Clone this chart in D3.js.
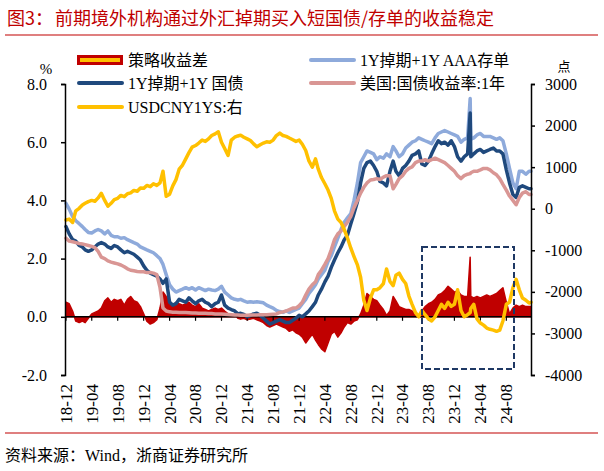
<!DOCTYPE html>
<html><head><meta charset="utf-8">
<script src="https://cdn.jsdelivr.net/npm/d3@7"></script>
<style>
html,body{margin:0;padding:0;background:#fff;}
svg{display:block;}
text{font-family:"Liberation Serif","Times New Roman","Noto Sans CJK SC",serif;}
</style></head><body>
<svg id="c" width="604" height="471"></svg>
<script>
// ---------- DATA ----------
const dates = [
"2018-12-01","2018-12-16","2019-01-01","2019-01-16","2019-02-01","2019-02-16","2019-03-01","2019-03-16","2019-04-01","2019-04-16",
"2019-05-01","2019-05-16","2019-06-01","2019-06-16","2019-07-01","2019-07-16","2019-08-01","2019-08-16","2019-09-01","2019-09-16",
"2019-10-01","2019-10-16","2019-11-01","2019-11-16","2019-12-01","2019-12-16","2020-01-01","2020-01-16","2020-02-01","2020-02-16",
"2020-03-01","2020-03-16","2020-04-01","2020-04-16","2020-05-01","2020-05-16","2020-06-01","2020-06-16","2020-07-01","2020-07-16",
"2020-08-01","2020-08-16","2020-09-01","2020-09-16","2020-10-01","2020-10-16","2020-11-01","2020-11-16","2020-12-01","2020-12-16",
"2021-01-01","2021-01-16","2021-02-01","2021-02-16","2021-03-01","2021-03-16","2021-04-01","2021-04-16","2021-05-01","2021-05-16",
"2021-06-01","2021-06-16","2021-07-01","2021-07-16","2021-08-01","2021-08-16","2021-09-01","2021-09-16","2021-10-01","2021-10-16",
"2021-11-01","2021-11-16","2021-12-01","2021-12-16","2022-01-01","2022-01-16","2022-02-01","2022-02-16","2022-03-01","2022-03-16",
"2022-04-01","2022-04-16","2022-05-01","2022-05-16","2022-06-01","2022-06-16","2022-07-01","2022-07-16","2022-08-01","2022-08-16",
"2022-09-01","2022-09-16","2022-10-01","2022-10-16","2022-11-01","2022-11-16","2022-12-01","2022-12-16","2023-01-01","2023-01-16",
"2023-02-01","2023-02-16","2023-03-01","2023-03-16","2023-04-01","2023-04-16","2023-05-01","2023-05-16","2023-06-01","2023-06-16",
"2023-07-01","2023-07-16","2023-08-01","2023-08-16","2023-09-01","2023-09-16","2023-10-01","2023-10-16","2023-11-01","2023-11-16",
"2023-12-01","2023-12-16","2024-01-01","2024-01-16","2024-02-01","2024-02-13","2024-02-16","2024-03-01","2024-03-16","2024-04-01",
"2024-04-16","2024-05-01","2024-05-16","2024-06-01","2024-06-16","2024-07-01","2024-07-16","2024-08-01","2024-08-16","2024-09-01",
"2024-09-16","2024-10-01","2024-10-16","2024-11-01","2024-11-16","2024-11-25"];

// 策略收益差 (%)
const spread = [
0.5,0.45,0.2,-0.15,-0.2,-0.15,-0.2,-0.05,0.1,0.15, 0.2,0.3,0.55,0.65,0.5,0.6,0.55,0.6,0.4,0.6,
0.7,0.55,0.5,0.35,0.1,-0.15,-0.25,-0.2,-0.1,0.3, 0.85,0.7,0.55,0.4,0.5,0.45,0.4,0.45,0.5,0.4,
0.35,0.45,0.3,0.25,0.2,0.25,0.3,0.25,0.3,0.2, 0.1,0.05,0.08,-0.05,-0.08,-0.05,-0.1,-0.08,-0.05,-0.1,
-0.15,-0.2,-0.3,-0.35,-0.3,-0.25,-0.3,-0.35,-0.4,-0.5, -0.45,-0.55,-0.6,-0.7,-0.9,-0.75,-0.6,-0.8,-0.95,-1.1,
-1.2,-0.9,-0.6,-0.5,-0.7,-0.55,-0.35,-0.2,-0.25,-0.15, -0.1,0.1,0.4,0.8,0.7,0.6,0.55,0.4,0.25,0.05,
0.2,0.7,0.55,0.35,0.3,0.25,0.25,0.2,0.1,0.05, 0.2,0.35,0.45,0.5,0.6,0.75,0.8,0.9,1.05,0.95,
0.85,0.9,0.75,0.7,0.7,2.05,0.7,0.65,0.7,0.65, 0.7,0.75,0.7,0.75,0.8,0.9,1.0,0.5,0.1,0.3,
0.4,0.35,0.4,0.35,0.35,0.35];

// 1Y掉期+1Y AAA存单 (%)
const aaaCD = [
3.9,3.7,3.45,3.3,3.2,3.1,3.0,2.9,2.88,2.95, 3.0,2.95,2.85,2.95,2.8,2.75,2.75,2.7,2.72,2.65,
2.6,2.55,2.5,2.4,2.35,2.3,2.25,2.2,2.1,2.0, 1.8,1.45,1.1,0.95,0.85,0.9,0.95,1.0,0.95,1.0,
0.92,1.0,0.95,0.9,0.95,0.92,0.9,0.95,1.05,0.85, 0.75,0.65,0.6,0.58,0.6,0.55,0.5,0.52,0.5,0.52,
0.5,0.48,0.4,0.35,0.3,0.22,0.18,0.15,0.2,0.15, 0.2,0.25,0.3,0.45,0.6,0.8,0.95,1.1,1.3,1.45,
1.6,1.9,2.1,2.4,2.7,3.0,3.25,3.4,3.55,4.0, 4.6,5.3,5.5,5.7,5.65,5.6,5.4,5.5,5.45,5.6,
5.5,5.85,5.7,5.5,5.6,5.8,5.9,6.0,6.05,6.15, 6.1,6.05,6.0,5.95,6.15,6.3,6.35,6.4,6.35,6.3,
6.25,6.2,6.0,6.1,6.15,7.5,6.1,6.15,6.25,6.3, 6.2,6.2,6.2,6.15,6.1,6.15,6.05,5.6,5.1,4.6,
4.4,5.0,5.0,4.9,5.0,5.0];

// 1Y掉期+1Y 国债 (%)
const govt = [
3.1,2.85,2.65,2.6,2.45,2.4,2.3,2.25,2.3,2.4, 2.5,2.55,2.5,2.4,2.35,2.45,2.4,2.3,2.2,2.25,
2.2,2.15,2.05,1.95,1.75,1.6,1.5,1.45,1.4,1.3, 1.15,1.3,0.5,0.4,0.45,0.6,0.55,0.5,0.65,0.55,
0.45,0.55,0.6,0.5,0.45,0.35,0.45,0.5,0.75,0.4, 0.3,0.25,0.2,0.1,0.12,0.08,0.0,0.05,0.1,0.12,
0.05,-0.05,-0.15,-0.25,-0.2,-0.15,-0.1,-0.15,-0.2,-0.2, -0.12,-0.05,0.05,0.0,0.1,0.2,0.35,0.5,0.75,0.95,
1.2,1.4,1.7,1.95,2.2,2.4,2.65,2.8,3.2,3.55, 3.95,4.6,5.1,5.3,5.35,5.2,5.0,4.65,4.6,4.5,
5.0,5.35,5.0,4.85,5.1,5.2,5.35,5.55,5.6,5.7, 5.25,5.2,5.35,5.6,5.85,6.05,5.95,6.0,5.9,6.05,
5.85,5.5,5.35,5.5,5.6,7.0,5.5,5.6,5.7,5.75, 5.65,5.7,5.75,5.8,5.7,5.7,5.6,5.05,4.6,4.2,
4.1,4.45,4.5,4.45,4.4,4.4];

// 美国:国债收益率:1年 (%)
const us1y = [
2.7,2.6,2.58,2.55,2.52,2.5,2.48,2.45,2.42,2.38, 2.25,2.05,2.0,1.92,1.88,1.85,1.82,1.78,1.72,1.65,
1.6,1.58,1.56,1.55,1.55,1.52,1.52,1.5,1.45,1.0, 0.3,0.2,0.17,0.16,0.16,0.15,0.15,0.15,0.14,0.13,
0.13,0.12,0.12,0.12,0.11,0.11,0.1,0.1,0.1,0.09, 0.08,0.07,0.06,0.06,0.05,0.05,0.05,0.06,0.06,0.06,
0.07,0.07,0.07,0.08,0.09,0.1,0.15,0.17,0.2,0.25, 0.3,0.3,0.38,0.5,0.75,0.95,1.1,1.2,1.45,1.6,
1.8,2.0,2.3,2.65,2.85,2.95,3.1,3.25,3.45,3.75, 4.0,4.25,4.45,4.6,4.7,4.72,4.75,4.72,4.8,4.85,
4.85,4.4,4.55,4.75,4.85,5.0,5.1,5.15,5.3,5.35, 5.35,5.4,5.35,5.4,5.45,5.4,5.35,5.3,5.2,5.1,
5.0,4.85,4.75,4.85,4.9,4.92,4.95,5.0,5.0,5.05, 5.1,5.1,5.05,4.95,4.88,4.75,4.55,4.35,4.15,4.0,
3.85,4.1,4.25,4.3,4.2,4.2];

// USDCNY1YS (点, right axis)
const usdcny = [
-270,-250,-330,-50,10,90,130,170,200,180, 260,370,200,60,130,220,250,320,290,360,
380,440,420,500,490,560,530,600,560,620, 900,300,350,550,700,950,1050,1200,1350,1480,
1520,1580,1650,1620,1680,1760,1800,1850,1600,1450, 1280,1650,1720,1750,1770,1720,1680,1640,1560,1490,
1540,1580,1610,1600,1650,1760,1820,1760,1740,1700, 1660,1620,1650,1550,1400,1150,1000,1200,950,750,
600,450,250,-50,-250,-330,-500,-700,-950,-1150, -1350,-1650,-2200,-2450,-2150,-1950,-1950,-1900,-1800,-1450,
-1750,-1850,-1600,-1550,-1700,-1800,-2100,-2300,-2500,-2600, -2450,-2550,-2650,-2700,-2600,-2450,-2300,-2400,-2250,-2350,
-2300,-1950,-2450,-2600,-2550,-2500,-2400,-2300,-2650,-2750, -2800,-2870,-2900,-2920,-2950,-2920,-2700,-2300,-2250,-1900,
-1700,-1950,-2150,-2200,-2270,-2250];

const tickDates = ["2018-12-01","2019-04-01","2019-08-01","2019-12-01","2020-04-01","2020-08-01","2020-12-01","2021-04-01","2021-08-01",
"2021-12-01","2022-04-01","2022-08-01","2022-12-01","2023-04-01","2023-08-01","2023-12-01","2024-04-01","2024-08-01"];
const tickLabels = ["18-12","19-04","19-08","19-12","20-04","20-08","20-12","21-04","21-08",
"21-12","22-04","22-08","22-12","23-04","23-08","23-12","24-04","24-08"];
const leftTicks = [-2,0,2,4,6,8];
const rightTicks = [-4000,-3000,-2000,-1000,0,1000,2000,3000];

// ---------- CHART ----------
const svg = d3.select("#c");
const parse = d3.timeParse("%Y-%m-%d");
const T = dates.map(parse);

const x = d3.scaleTime().domain([parse("2018-12-01"), parse("2024-11-25")]).range([66, 531]);
const yL = d3.scaleLinear().domain([-2, 8]).range([375, 84]);
const yR = d3.scaleLinear().domain([-4000, 3000]).range([375, 84]);

const C = {red:"#c00000", yellow:"#ffc000", lblue:"#8eaadb", dblue:"#1f497d", pink:"#d99694", navy:"#1f3864"};

// title
svg.append("text").attr("x",7).attr("y",25).attr("fill",C.red).attr("font-size",18)
  .style("font-family","'Noto Sans CJK SC',sans-serif").text("图3：");
svg.append("text").attr("x",55).attr("y",25).attr("fill",C.red).attr("font-size",18)
  .style("font-family","'Noto Sans CJK SC',sans-serif").text("前期境外机构通过外汇掉期买入短国债/存单的收益稳定");
svg.append("line").attr("x1",5).attr("x2",598).attr("y1",35).attr("y2",35).attr("stroke",C.red).attr("stroke-width",1.2);
// footer
svg.append("line").attr("x1",5).attr("x2",598).attr("y1",433).attr("y2",433).attr("stroke",C.red).attr("stroke-width",1.2);
svg.append("text").attr("x",5).attr("y",461).attr("font-size",16).attr("fill","#000")
  .style("font-family","'Liberation Serif','Noto Sans CJK SC',serif").text("资料来源：Wind，浙商证券研究所");

// spread area
const area = d3.area().x((d,i)=>x(T[i])).y0(yL(0)).y1(d=>yL(d));
svg.append("path").datum(spread).attr("d",area).attr("fill",C.red).attr("stroke",C.red).attr("stroke-width",1.5).attr("stroke-linejoin","round");

// x axis line with ticks
const xg = svg.append("g");
xg.append("line").attr("x1",66).attr("x2",531).attr("y1",yL(0)).attr("y2",yL(0)).attr("stroke","#000").attr("stroke-width",1.5);
tickDates.forEach((d,i)=>{
  const xx = x(parse(d));
  xg.append("line").attr("x1",xx).attr("x2",xx).attr("y1",yL(0)).attr("y2",yL(0)+4).attr("stroke","#000").attr("stroke-width",1.2);
  xg.append("text").attr("transform",`translate(${xx},384) rotate(-90)`).attr("text-anchor","end")
    .attr("dy","0.35em").attr("font-size",17).text(tickLabels[i]);
});

// lines
const lineL = d3.line().x((d,i)=>x(T[i])).y(d=>yL(d));
const lineR = d3.line().x((d,i)=>x(T[i])).y(d=>yR(d));
function drawLine(data, gen, color){
  svg.append("path").datum(data).attr("d",gen).attr("fill","none").attr("stroke",color)
    .attr("stroke-width",3.5).attr("stroke-linejoin","round").attr("stroke-linecap","round");
}
drawLine(aaaCD, lineL, C.lblue);
drawLine(govt, lineL, C.dblue);
drawLine(us1y, lineL, C.pink);
drawLine(usdcny, lineR, C.yellow);

// dashed box
svg.append("rect").attr("x",422).attr("y",247).attr("width",92).attr("height",122)
  .attr("fill","none").attr("stroke",C.navy).attr("stroke-width",2).attr("stroke-dasharray","6,3");

// axes
const axL = d3.axisLeft(yL).tickValues(leftTicks).tickFormat(d=>d.toFixed(1)).tickSize(4).tickPadding(14);
const gL = svg.append("g").attr("transform","translate(65,0)").call(axL);
const axR = d3.axisRight(yR).tickValues(rightTicks).tickFormat(d=>String(d)).tickSize(4).tickPadding(10);
const gR = svg.append("g").attr("transform","translate(531,0)").call(axR);
[gL,gR].forEach(g=>{
  g.selectAll("path,line").attr("stroke","#000").attr("stroke-width",1.5);
  g.selectAll("text").attr("font-size",16).attr("fill","#000").style("font-family","'Liberation Serif',serif");
});

svg.append("text").attr("x",46).attr("y",74).attr("text-anchor","middle").attr("font-size",15).text("%");
svg.append("text").attr("x",564).attr("y",71).attr("text-anchor","middle").attr("font-size",13)
  .style("font-family","'Noto Sans CJK SC',sans-serif").text("点");

// legend
const legend = [
  {label:"策略收益差", type:"box", x:77, y:60},
  {label:"1Y掉期+1Y AAA存单", type:"line", color:C.lblue, x:309, y:60},
  {label:"1Y掉期+1Y 国债", type:"line", color:C.dblue, x:77, y:83},
  {label:"美国:国债收益率:1年", type:"line", color:C.pink, x:309, y:83},
  {label:"USDCNY1YS:右", type:"line", color:C.yellow, x:77, y:107}
];
legend.forEach(l=>{
  if(l.type==="box"){
    svg.append("rect").attr("x",l.x+1.5).attr("y",l.y-3.5).attr("width",43).attr("height",7)
      .attr("fill",C.yellow).attr("stroke",C.red).attr("stroke-width",3);
  } else {
    svg.append("line").attr("x1",l.x+2).attr("x2",l.x+45).attr("y1",l.y).attr("y2",l.y)
      .attr("stroke",l.color).attr("stroke-width",4).attr("stroke-linecap","round");
  }
  svg.append("text").attr("x",l.x+51).attr("y",l.y+5.5).attr("font-size",16).attr("fill","#000")
    .style("font-family","'Liberation Serif','Noto Sans CJK SC',serif").text(l.label);
});
</script></body></html>
